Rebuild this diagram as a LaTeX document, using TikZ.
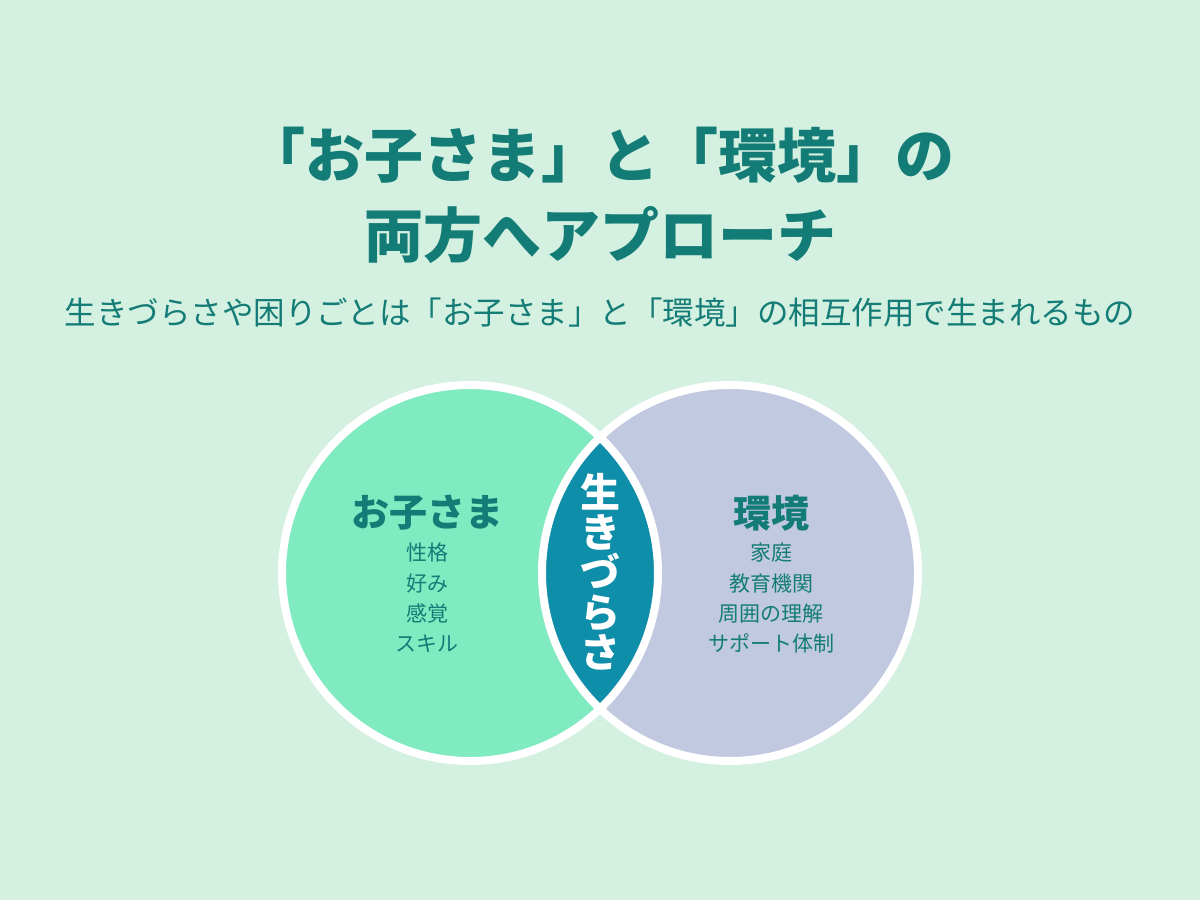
\documentclass[tikz,border=0pt]{standalone}
\usepackage{fontspec}
\newfontfamily\cjk{Noto Sans CJK JP}
\definecolor{bg}{RGB}{212,240,224}
\definecolor{ink}{RGB}{20,124,118}
\definecolor{kid}{RGB}{128,234,192}
\definecolor{env}{RGB}{192,201,224}
\definecolor{lens}{RGB}{14,142,168}

\begin{document}
\begin{tikzpicture}[x=1pt, y=-1pt,
  ring/.style={draw=white, line width=8pt},
  headline/.style={text=ink, font=\cjk\bfseries\fontsize{59}{59}\selectfont, inner sep=0pt},
  subline/.style={text=ink, font=\cjk\fontsize{31.5}{31.5}\selectfont, inner sep=0pt},
  setname/.style={text=ink, font=\cjk\bfseries\fontsize{38}{38}\selectfont, inner sep=0pt},
  setitems/.style={text=ink, font=\cjk\fontsize{21}{30.3}\selectfont, align=center, inner sep=0pt}]

\fill[bg] (0,0) rectangle (1200,900);
\useasboundingbox (0,0) rectangle (1200,900);

\node[headline] (title1) at (600,155) {「お子さま」と「環境」の};
\node[headline] (title2) at (600,235) {両方へアプローチ};
\node[subline] (sub) at (600,313) {生きづらさや困りごとは「お子さま」と「環境」の相互作用で生まれるもの};

\fill[kid] (470,573) circle (188);
\fill[env] (730,573) circle (188);
\begin{scope}
  \clip (470,573) circle (188);
  \fill[lens] (730,573) circle (188);
\end{scope}
\draw[ring] (470,573) circle (188);
\draw[ring] (730,573) circle (188);

\node[setname] (kidname) at (427,513) {お子さま};
\node[setitems, anchor=north] (kiditems) at (427,543) {性格\\好み\\感覚\\スキル};

\node[setname] (envname) at (771,513) {環境};
\node[setitems, anchor=north] (envitems) at (771,543) {家庭\\教育機関\\周囲の理解\\サポート体制};

\node[text=white, font=\cjk\bfseries\fontsize{40}{40}\selectfont, align=center, inner sep=0pt]
  (hard) at (600,572) {生\\き\\づ\\ら\\さ};

\end{tikzpicture}
\end{document}
